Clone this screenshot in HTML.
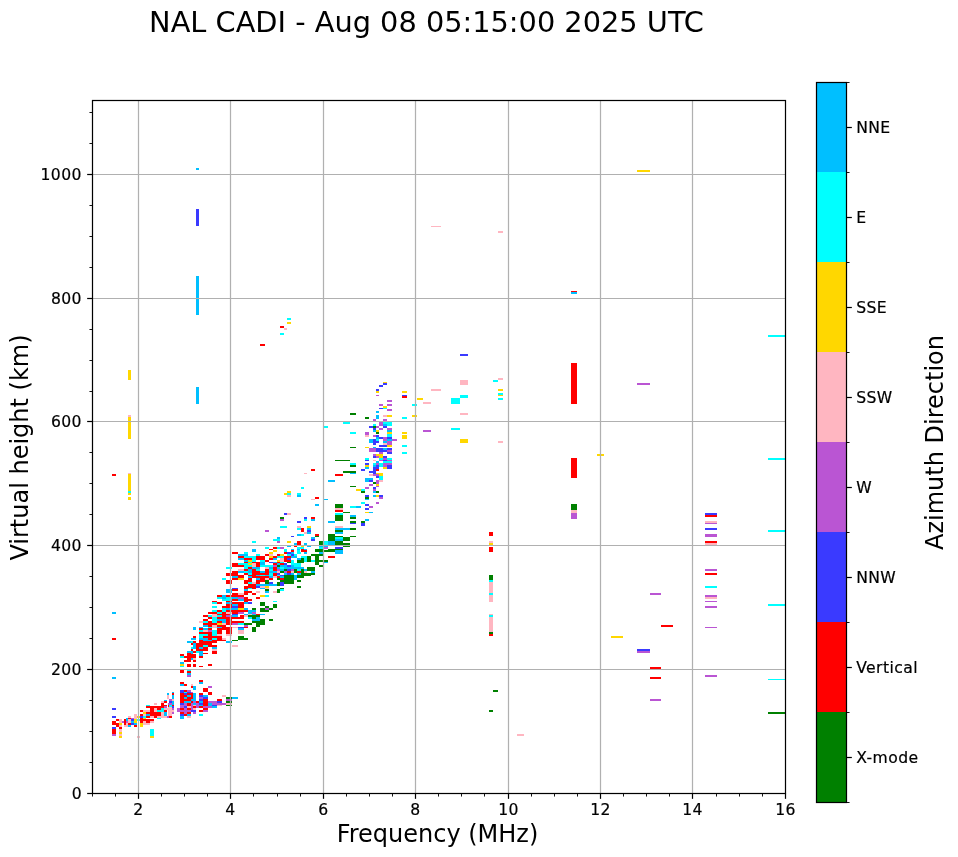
<!DOCTYPE html>
<html lang="en"><head><meta charset="utf-8"><title>NAL CADI ionogram</title>
<style>html,body{margin:0;padding:0;background:#fff}svg{display:block}text{font-family:"DejaVu Sans","Liberation Sans",sans-serif;fill:#000}</style></head><body>
<svg width="958" height="857" viewBox="0 0 958 857">
<rect width="958" height="857" fill="#fff"/>
<g shape-rendering="crispEdges">
<rect x="112" y="708" width="4" height="2" fill="#3a3aff"/>
<rect x="112" y="716" width="4" height="2" fill="#3a3aff"/>
<rect x="116" y="719" width="3" height="2" fill="#ff0000"/>
<rect x="112" y="721" width="4" height="4" fill="#ff0000"/>
<rect x="116" y="723" width="3" height="4" fill="#ff0000"/>
<rect x="112" y="727" width="4" height="2" fill="#3a3aff"/>
<rect x="112" y="729" width="4" height="5" fill="#ff0000"/>
<rect x="112" y="734" width="4" height="2" fill="#ba55d3"/>
<rect x="119" y="719" width="3" height="4" fill="#ffb6c1"/>
<rect x="119" y="723" width="3" height="2" fill="#ffd700"/>
<rect x="119" y="725" width="3" height="2" fill="#ffb6c1"/>
<rect x="119" y="727" width="3" height="2" fill="#ff0000"/>
<rect x="119" y="729" width="3" height="3" fill="#ffb6c1"/>
<rect x="119" y="732" width="3" height="2" fill="#ffd700"/>
<rect x="119" y="734" width="3" height="2" fill="#ffb6c1"/>
<rect x="119" y="736" width="3" height="2" fill="#ffd700"/>
<rect x="122" y="721" width="2" height="2" fill="#ba55d3"/>
<rect x="124" y="719" width="2" height="6" fill="#ff0000"/>
<rect x="124" y="725" width="4" height="2" fill="#ffb6c1"/>
<rect x="126" y="718" width="2" height="3" fill="#00bfff"/>
<rect x="126" y="721" width="2" height="2" fill="#ba55d3"/>
<rect x="126" y="723" width="2" height="2" fill="#ffb6c1"/>
<rect x="128" y="716" width="3" height="2" fill="#ffb6c1"/>
<rect x="128" y="718" width="3" height="1" fill="#ff0000"/>
<rect x="128" y="719" width="3" height="4" fill="#ffb6c1"/>
<rect x="128" y="723" width="3" height="2" fill="#ff0000"/>
<rect x="128" y="725" width="3" height="2" fill="#00bfff"/>
<rect x="131" y="718" width="3" height="1" fill="#ba55d3"/>
<rect x="131" y="719" width="3" height="2" fill="#3a3aff"/>
<rect x="131" y="721" width="3" height="2" fill="#00bfff"/>
<rect x="131" y="723" width="3" height="2" fill="#3a3aff"/>
<rect x="134" y="714" width="3" height="5" fill="#ffb6c1"/>
<rect x="134" y="719" width="3" height="4" fill="#ffd700"/>
<rect x="134" y="723" width="3" height="2" fill="#00bfff"/>
<rect x="134" y="725" width="3" height="2" fill="#ff0000"/>
<rect x="137" y="716" width="3" height="2" fill="#ffd700"/>
<rect x="137" y="719" width="3" height="2" fill="#00ffff"/>
<rect x="137" y="736" width="3" height="2" fill="#ffb6c1"/>
<rect x="140" y="710" width="3" height="2" fill="#ff0000"/>
<rect x="140" y="714" width="3" height="2" fill="#ff0000"/>
<rect x="140" y="716" width="3" height="2" fill="#3a3aff"/>
<rect x="140" y="718" width="3" height="5" fill="#ff0000"/>
<rect x="140" y="723" width="3" height="4" fill="#ffd700"/>
<rect x="143" y="710" width="7" height="2" fill="#ffb6c1"/>
<rect x="143" y="712" width="3" height="2" fill="#ffd700"/>
<rect x="143" y="714" width="3" height="2" fill="#ffb6c1"/>
<rect x="143" y="716" width="3" height="2" fill="#00ffff"/>
<rect x="143" y="718" width="3" height="1" fill="#ffd700"/>
<rect x="143" y="719" width="11" height="2" fill="#ff0000"/>
<rect x="143" y="721" width="3" height="2" fill="#ffb6c1"/>
<rect x="143" y="723" width="7" height="2" fill="#ffb6c1"/>
<rect x="146" y="721" width="4" height="2" fill="#ff0000"/>
<rect x="150" y="721" width="4" height="2" fill="#ffb6c1"/>
<rect x="146" y="705" width="4" height="1" fill="#00ffff"/>
<rect x="146" y="706" width="18" height="2" fill="#ff0000"/>
<rect x="150" y="708" width="4" height="8" fill="#ff0000"/>
<rect x="154" y="708" width="3" height="4" fill="#ffb6c1"/>
<rect x="157" y="708" width="4" height="2" fill="#ff0000"/>
<rect x="161" y="708" width="3" height="2" fill="#00ffff"/>
<rect x="157" y="710" width="7" height="2" fill="#00ffff"/>
<rect x="146" y="712" width="15" height="2" fill="#ff0000"/>
<rect x="146" y="714" width="4" height="2" fill="#00bfff"/>
<rect x="150" y="714" width="11" height="2" fill="#ff0000"/>
<rect x="146" y="716" width="4" height="2" fill="#ff0000"/>
<rect x="150" y="716" width="4" height="2" fill="#ffb6c1"/>
<rect x="154" y="716" width="3" height="2" fill="#ff0000"/>
<rect x="157" y="716" width="10" height="2" fill="#ffb6c1"/>
<rect x="157" y="718" width="4" height="1" fill="#00ffff"/>
<rect x="161" y="712" width="3" height="4" fill="#ffb6c1"/>
<rect x="164" y="712" width="3" height="4" fill="#00bfff"/>
<rect x="164" y="710" width="3" height="2" fill="#ff0000"/>
<rect x="164" y="708" width="4" height="2" fill="#ffb6c1"/>
<rect x="164" y="706" width="3" height="2" fill="#ba55d3"/>
<rect x="161" y="703" width="3" height="3" fill="#ff0000"/>
<rect x="164" y="701" width="3" height="2" fill="#ff0000"/>
<rect x="164" y="705" width="3" height="1" fill="#ff0000"/>
<rect x="154" y="703" width="3" height="2" fill="#ffb6c1"/>
<rect x="161" y="701" width="3" height="2" fill="#ffb6c1"/>
<rect x="164" y="700" width="3" height="1" fill="#00bfff"/>
<rect x="167" y="716" width="1" height="2" fill="#ba55d3"/>
<rect x="150" y="729" width="4" height="7" fill="#00ffff"/>
<rect x="150" y="736" width="4" height="2" fill="#ffd700"/>
<rect x="180" y="666" width="4" height="1" fill="#00ffff"/>
<rect x="187" y="666" width="4" height="1" fill="#ff0000"/>
<rect x="193" y="666" width="3" height="1" fill="#ff0000"/>
<rect x="199" y="666" width="4" height="1" fill="#ff0000"/>
<rect x="180" y="670" width="4" height="3" fill="#ff0000"/>
<rect x="187" y="670" width="4" height="1" fill="#00ffff"/>
<rect x="187" y="671" width="4" height="2" fill="#ff0000"/>
<rect x="187" y="673" width="4" height="2" fill="#00bfff"/>
<rect x="187" y="675" width="4" height="2" fill="#ba55d3"/>
<rect x="199" y="680" width="4" height="2" fill="#ff0000"/>
<rect x="199" y="682" width="4" height="2" fill="#00bfff"/>
<rect x="180" y="682" width="4" height="2" fill="#ff0000"/>
<rect x="180" y="684" width="4" height="2" fill="#00bfff"/>
<rect x="184" y="684" width="3" height="2" fill="#ff0000"/>
<rect x="191" y="684" width="2" height="2" fill="#ffb6c1"/>
<rect x="191" y="686" width="2" height="2" fill="#ff0000"/>
<rect x="193" y="686" width="3" height="4" fill="#00bfff"/>
<rect x="208" y="686" width="4" height="2" fill="#ba55d3"/>
<rect x="203" y="688" width="5" height="4" fill="#ff0000"/>
<rect x="208" y="692" width="4" height="3" fill="#ff0000"/>
<rect x="222" y="695" width="4" height="2" fill="#ffb6c1"/>
<rect x="180" y="690" width="4" height="3" fill="#3a3aff"/>
<rect x="184" y="690" width="3" height="2" fill="#ff0000"/>
<rect x="187" y="690" width="4" height="2" fill="#ba55d3"/>
<rect x="184" y="692" width="3" height="1" fill="#00ffff"/>
<rect x="187" y="692" width="4" height="1" fill="#3a3aff"/>
<rect x="191" y="692" width="2" height="1" fill="#ba55d3"/>
<rect x="180" y="693" width="4" height="10" fill="#ff0000"/>
<rect x="184" y="693" width="3" height="2" fill="#3a3aff"/>
<rect x="187" y="693" width="6" height="2" fill="#ff0000"/>
<rect x="184" y="695" width="3" height="2" fill="#ff0000"/>
<rect x="187" y="695" width="4" height="2" fill="#00bfff"/>
<rect x="191" y="695" width="2" height="4" fill="#ff0000"/>
<rect x="184" y="697" width="3" height="2" fill="#00bfff"/>
<rect x="187" y="697" width="4" height="2" fill="#ff0000"/>
<rect x="184" y="699" width="7" height="2" fill="#ff0000"/>
<rect x="191" y="699" width="5" height="2" fill="#00bfff"/>
<rect x="193" y="693" width="3" height="6" fill="#00bfff"/>
<rect x="184" y="701" width="7" height="2" fill="#00bfff"/>
<rect x="191" y="701" width="2" height="2" fill="#ff0000"/>
<rect x="193" y="701" width="3" height="2" fill="#ba55d3"/>
<rect x="196" y="701" width="3" height="2" fill="#ff0000"/>
<rect x="180" y="703" width="4" height="2" fill="#3a3aff"/>
<rect x="184" y="703" width="3" height="3" fill="#ba55d3"/>
<rect x="187" y="703" width="4" height="3" fill="#ff0000"/>
<rect x="191" y="703" width="2" height="7" fill="#ba55d3"/>
<rect x="193" y="703" width="3" height="2" fill="#00bfff"/>
<rect x="193" y="705" width="3" height="1" fill="#ffb6c1"/>
<rect x="196" y="703" width="3" height="5" fill="#ba55d3"/>
<rect x="180" y="705" width="4" height="3" fill="#ba55d3"/>
<rect x="184" y="706" width="3" height="2" fill="#3a3aff"/>
<rect x="187" y="706" width="4" height="2" fill="#ffb6c1"/>
<rect x="193" y="706" width="3" height="2" fill="#ff0000"/>
<rect x="177" y="708" width="3" height="4" fill="#ba55d3"/>
<rect x="180" y="708" width="4" height="2" fill="#ff0000"/>
<rect x="184" y="708" width="3" height="2" fill="#ba55d3"/>
<rect x="187" y="708" width="4" height="2" fill="#ff0000"/>
<rect x="193" y="708" width="3" height="2" fill="#ffb6c1"/>
<rect x="180" y="710" width="11" height="2" fill="#ba55d3"/>
<rect x="191" y="710" width="5" height="2" fill="#3a3aff"/>
<rect x="180" y="712" width="4" height="2" fill="#ff0000"/>
<rect x="184" y="712" width="3" height="2" fill="#ba55d3"/>
<rect x="187" y="712" width="4" height="2" fill="#ff0000"/>
<rect x="193" y="712" width="3" height="2" fill="#ba55d3"/>
<rect x="180" y="714" width="4" height="2" fill="#3a3aff"/>
<rect x="184" y="714" width="3" height="2" fill="#ff0000"/>
<rect x="187" y="714" width="4" height="2" fill="#00bfff"/>
<rect x="180" y="716" width="4" height="3" fill="#00bfff"/>
<rect x="187" y="716" width="4" height="2" fill="#ffb6c1"/>
<rect x="199" y="693" width="4" height="2" fill="#ff0000"/>
<rect x="199" y="695" width="4" height="2" fill="#3a3aff"/>
<rect x="199" y="697" width="4" height="2" fill="#ba55d3"/>
<rect x="199" y="699" width="4" height="2" fill="#3a3aff"/>
<rect x="199" y="701" width="4" height="2" fill="#00bfff"/>
<rect x="199" y="703" width="4" height="2" fill="#3a3aff"/>
<rect x="199" y="705" width="4" height="1" fill="#00bfff"/>
<rect x="199" y="706" width="4" height="2" fill="#ff0000"/>
<rect x="199" y="710" width="4" height="2" fill="#ff0000"/>
<rect x="199" y="714" width="4" height="2" fill="#00ffff"/>
<rect x="203" y="695" width="5" height="2" fill="#00bfff"/>
<rect x="203" y="697" width="5" height="2" fill="#3a3aff"/>
<rect x="203" y="699" width="5" height="7" fill="#ff0000"/>
<rect x="203" y="706" width="9" height="2" fill="#ba55d3"/>
<rect x="203" y="708" width="5" height="2" fill="#ff0000"/>
<rect x="203" y="710" width="5" height="2" fill="#ba55d3"/>
<rect x="208" y="701" width="9" height="2" fill="#ba55d3"/>
<rect x="208" y="703" width="4" height="3" fill="#00bfff"/>
<rect x="212" y="703" width="14" height="2" fill="#ba55d3"/>
<rect x="212" y="705" width="5" height="1" fill="#3a3aff"/>
<rect x="212" y="706" width="5" height="2" fill="#00bfff"/>
<rect x="217" y="699" width="5" height="2" fill="#ff0000"/>
<rect x="217" y="701" width="5" height="2" fill="#3a3aff"/>
<rect x="217" y="705" width="5" height="1" fill="#ffb6c1"/>
<rect x="226" y="697" width="2" height="2" fill="#008000"/>
<rect x="226" y="699" width="2" height="2" fill="#ba55d3"/>
<rect x="226" y="701" width="2" height="2" fill="#008000"/>
<rect x="226" y="703" width="2" height="2" fill="#ffb6c1"/>
<rect x="226" y="705" width="2" height="1" fill="#008000"/>
<rect x="172" y="692" width="2" height="1" fill="#00bfff"/>
<rect x="172" y="693" width="2" height="2" fill="#ff0000"/>
<rect x="172" y="695" width="2" height="4" fill="#00bfff"/>
<rect x="172" y="699" width="2" height="2" fill="#ffb6c1"/>
<rect x="172" y="701" width="2" height="4" fill="#00bfff"/>
<rect x="172" y="705" width="2" height="1" fill="#ff0000"/>
<rect x="172" y="706" width="2" height="2" fill="#3a3aff"/>
<rect x="172" y="708" width="2" height="2" fill="#ba55d3"/>
<rect x="172" y="710" width="2" height="2" fill="#ffb6c1"/>
<rect x="172" y="712" width="2" height="2" fill="#ba55d3"/>
<rect x="168" y="693" width="1" height="2" fill="#00bfff"/>
<rect x="168" y="695" width="1" height="4" fill="#ffb6c1"/>
<rect x="169" y="699" width="3" height="2" fill="#ba55d3"/>
<rect x="169" y="701" width="3" height="2" fill="#3a3aff"/>
<rect x="168" y="703" width="4" height="2" fill="#ba55d3"/>
<rect x="169" y="705" width="3" height="2" fill="#00ffff"/>
<rect x="168" y="705" width="1" height="3" fill="#ff0000"/>
<rect x="168" y="707" width="4" height="9" fill="#ffb6c1"/>
<rect x="168" y="716" width="1" height="2" fill="#ba55d3"/>
<rect x="169" y="716" width="3" height="2" fill="#ff0000"/>
<rect x="112" y="677" width="4" height="2" fill="#00bfff"/>
<rect x="167" y="693" width="1" height="2" fill="#00bfff"/>
<rect x="167" y="695" width="1" height="4" fill="#ffb6c1"/>
<rect x="228" y="697" width="4" height="2" fill="#008000"/>
<rect x="228" y="699" width="4" height="2" fill="#ba55d3"/>
<rect x="228" y="701" width="4" height="2" fill="#008000"/>
<rect x="228" y="703" width="4" height="2" fill="#ffb6c1"/>
<rect x="228" y="705" width="4" height="1" fill="#008000"/>
<rect x="232" y="697" width="6" height="2" fill="#00bfff"/>
<rect x="212" y="614" width="5" height="1" fill="#ffb6c1"/>
<rect x="217" y="614" width="13" height="1" fill="#ff0000"/>
<rect x="232" y="614" width="6" height="1" fill="#3a3aff"/>
<rect x="203" y="615" width="5" height="2" fill="#ff0000"/>
<rect x="208" y="615" width="4" height="2" fill="#00ffff"/>
<rect x="212" y="615" width="5" height="2" fill="#ffb6c1"/>
<rect x="217" y="615" width="5" height="2" fill="#00ffff"/>
<rect x="222" y="615" width="4" height="2" fill="#ff0000"/>
<rect x="226" y="615" width="6" height="2" fill="#ba55d3"/>
<rect x="232" y="615" width="6" height="2" fill="#00bfff"/>
<rect x="208" y="617" width="4" height="2" fill="#ff0000"/>
<rect x="212" y="617" width="5" height="2" fill="#00ffff"/>
<rect x="217" y="617" width="23" height="2" fill="#ff0000"/>
<rect x="203" y="619" width="5" height="2" fill="#ff0000"/>
<rect x="212" y="619" width="5" height="2" fill="#00ffff"/>
<rect x="217" y="619" width="9" height="2" fill="#00bfff"/>
<rect x="226" y="619" width="6" height="2" fill="#ff0000"/>
<rect x="222" y="621" width="4" height="2" fill="#00bfff"/>
<rect x="199" y="621" width="4" height="2" fill="#ffb6c1"/>
<rect x="203" y="621" width="5" height="2" fill="#00ffff"/>
<rect x="208" y="621" width="4" height="2" fill="#ff0000"/>
<rect x="212" y="621" width="5" height="2" fill="#00ffff"/>
<rect x="217" y="621" width="5" height="2" fill="#ff0000"/>
<rect x="226" y="621" width="14" height="2" fill="#ff0000"/>
<rect x="203" y="623" width="14" height="2" fill="#ff0000"/>
<rect x="217" y="623" width="5" height="2" fill="#ffd700"/>
<rect x="222" y="623" width="4" height="2" fill="#ffb6c1"/>
<rect x="226" y="623" width="6" height="2" fill="#ff0000"/>
<rect x="232" y="623" width="6" height="2" fill="#ba55d3"/>
<rect x="238" y="623" width="2" height="2" fill="#00ffff"/>
<rect x="203" y="625" width="5" height="2" fill="#00bfff"/>
<rect x="208" y="625" width="4" height="2" fill="#ff0000"/>
<rect x="212" y="625" width="5" height="2" fill="#ffb6c1"/>
<rect x="217" y="625" width="9" height="2" fill="#ff0000"/>
<rect x="193" y="627" width="3" height="1" fill="#00bfff"/>
<rect x="199" y="627" width="4" height="1" fill="#00bfff"/>
<rect x="208" y="627" width="4" height="1" fill="#00ffff"/>
<rect x="212" y="627" width="5" height="1" fill="#ffb6c1"/>
<rect x="217" y="627" width="5" height="1" fill="#00bfff"/>
<rect x="222" y="627" width="10" height="1" fill="#ff0000"/>
<rect x="232" y="627" width="6" height="1" fill="#ffb6c1"/>
<rect x="238" y="627" width="2" height="1" fill="#3a3aff"/>
<rect x="193" y="628" width="3" height="2" fill="#00bfff"/>
<rect x="199" y="628" width="4" height="2" fill="#ff0000"/>
<rect x="203" y="628" width="5" height="2" fill="#00bfff"/>
<rect x="208" y="628" width="4" height="2" fill="#ff0000"/>
<rect x="217" y="628" width="15" height="2" fill="#ff0000"/>
<rect x="238" y="628" width="2" height="2" fill="#00bfff"/>
<rect x="199" y="630" width="4" height="2" fill="#00ffff"/>
<rect x="203" y="630" width="5" height="2" fill="#ffb6c1"/>
<rect x="208" y="630" width="4" height="2" fill="#ba55d3"/>
<rect x="212" y="630" width="5" height="2" fill="#00ffff"/>
<rect x="217" y="630" width="5" height="2" fill="#ff0000"/>
<rect x="226" y="630" width="6" height="2" fill="#ff0000"/>
<rect x="238" y="630" width="2" height="2" fill="#ffb6c1"/>
<rect x="199" y="632" width="13" height="2" fill="#ff0000"/>
<rect x="212" y="632" width="5" height="2" fill="#00ffff"/>
<rect x="217" y="632" width="5" height="2" fill="#ff0000"/>
<rect x="226" y="632" width="6" height="2" fill="#ff0000"/>
<rect x="238" y="632" width="2" height="2" fill="#ffb6c1"/>
<rect x="199" y="634" width="9" height="2" fill="#00ffff"/>
<rect x="208" y="634" width="4" height="2" fill="#ff0000"/>
<rect x="212" y="634" width="5" height="2" fill="#00ffff"/>
<rect x="217" y="634" width="5" height="2" fill="#ffb6c1"/>
<rect x="226" y="634" width="6" height="2" fill="#ffb6c1"/>
<rect x="193" y="636" width="3" height="2" fill="#ff0000"/>
<rect x="199" y="636" width="4" height="2" fill="#00ffff"/>
<rect x="203" y="636" width="19" height="2" fill="#ff0000"/>
<rect x="238" y="636" width="2" height="2" fill="#008000"/>
<rect x="191" y="638" width="5" height="2" fill="#00bfff"/>
<rect x="199" y="638" width="9" height="2" fill="#00bfff"/>
<rect x="208" y="638" width="4" height="2" fill="#ff0000"/>
<rect x="212" y="638" width="5" height="2" fill="#00ffff"/>
<rect x="217" y="638" width="5" height="2" fill="#ff0000"/>
<rect x="222" y="638" width="4" height="2" fill="#ffb6c1"/>
<rect x="238" y="638" width="2" height="2" fill="#008000"/>
<rect x="199" y="640" width="4" height="1" fill="#ff0000"/>
<rect x="203" y="640" width="9" height="1" fill="#00bfff"/>
<rect x="212" y="640" width="14" height="1" fill="#ff0000"/>
<rect x="232" y="640" width="6" height="1" fill="#008000"/>
<rect x="187" y="641" width="4" height="2" fill="#00bfff"/>
<rect x="191" y="641" width="2" height="2" fill="#00ffff"/>
<rect x="193" y="641" width="3" height="2" fill="#ff0000"/>
<rect x="199" y="641" width="18" height="2" fill="#ff0000"/>
<rect x="226" y="641" width="6" height="2" fill="#00bfff"/>
<rect x="191" y="643" width="2" height="2" fill="#ff0000"/>
<rect x="193" y="643" width="3" height="2" fill="#00bfff"/>
<rect x="196" y="643" width="16" height="2" fill="#ff0000"/>
<rect x="193" y="645" width="3" height="2" fill="#00bfff"/>
<rect x="196" y="645" width="7" height="2" fill="#ff0000"/>
<rect x="203" y="645" width="5" height="2" fill="#00ffff"/>
<rect x="208" y="645" width="9" height="2" fill="#ff0000"/>
<rect x="232" y="645" width="6" height="2" fill="#ffb6c1"/>
<rect x="191" y="647" width="2" height="2" fill="#00ffff"/>
<rect x="193" y="647" width="3" height="2" fill="#00bfff"/>
<rect x="196" y="647" width="3" height="2" fill="#ff0000"/>
<rect x="199" y="647" width="4" height="2" fill="#00bfff"/>
<rect x="203" y="647" width="5" height="2" fill="#ff0000"/>
<rect x="212" y="647" width="5" height="2" fill="#00bfff"/>
<rect x="191" y="649" width="2" height="2" fill="#ff0000"/>
<rect x="196" y="649" width="12" height="2" fill="#ff0000"/>
<rect x="212" y="649" width="5" height="2" fill="#ffb6c1"/>
<rect x="187" y="651" width="6" height="2" fill="#00bfff"/>
<rect x="193" y="651" width="3" height="2" fill="#ff0000"/>
<rect x="196" y="651" width="3" height="2" fill="#00ffff"/>
<rect x="199" y="651" width="4" height="2" fill="#00bfff"/>
<rect x="212" y="651" width="5" height="2" fill="#ff0000"/>
<rect x="187" y="653" width="4" height="1" fill="#ff0000"/>
<rect x="191" y="653" width="2" height="1" fill="#00bfff"/>
<rect x="199" y="653" width="4" height="1" fill="#00bfff"/>
<rect x="203" y="653" width="5" height="1" fill="#ff0000"/>
<rect x="212" y="653" width="5" height="1" fill="#ff0000"/>
<rect x="180" y="654" width="4" height="2" fill="#ff0000"/>
<rect x="187" y="654" width="9" height="2" fill="#ff0000"/>
<rect x="199" y="654" width="4" height="2" fill="#00bfff"/>
<rect x="180" y="656" width="4" height="2" fill="#00ffff"/>
<rect x="184" y="656" width="12" height="2" fill="#ff0000"/>
<rect x="199" y="656" width="4" height="2" fill="#ff0000"/>
<rect x="187" y="658" width="4" height="2" fill="#ff0000"/>
<rect x="191" y="658" width="2" height="2" fill="#00bfff"/>
<rect x="193" y="658" width="3" height="2" fill="#ffb6c1"/>
<rect x="184" y="660" width="7" height="2" fill="#ff0000"/>
<rect x="193" y="660" width="3" height="2" fill="#ff0000"/>
<rect x="180" y="662" width="4" height="2" fill="#00bfff"/>
<rect x="180" y="664" width="4" height="2" fill="#ffd700"/>
<rect x="187" y="664" width="4" height="2" fill="#ff0000"/>
<rect x="193" y="664" width="3" height="2" fill="#ff0000"/>
<rect x="208" y="664" width="4" height="2" fill="#ff0000"/>
<rect x="180" y="666" width="4" height="1" fill="#00ffff"/>
<rect x="187" y="666" width="4" height="1" fill="#ff0000"/>
<rect x="193" y="666" width="3" height="1" fill="#ff0000"/>
<rect x="199" y="666" width="4" height="1" fill="#ff0000"/>
<rect x="244" y="588" width="4" height="1" fill="#ff0000"/>
<rect x="248" y="588" width="4" height="1" fill="#00ffff"/>
<rect x="252" y="588" width="4" height="1" fill="#ff0000"/>
<rect x="260" y="588" width="5" height="1" fill="#00bfff"/>
<rect x="265" y="588" width="4" height="1" fill="#ffb6c1"/>
<rect x="280" y="588" width="4" height="1" fill="#008000"/>
<rect x="244" y="589" width="4" height="2" fill="#00bfff"/>
<rect x="265" y="589" width="4" height="2" fill="#008000"/>
<rect x="277" y="589" width="3" height="2" fill="#008000"/>
<rect x="280" y="589" width="4" height="2" fill="#00ffff"/>
<rect x="244" y="591" width="8" height="2" fill="#ff0000"/>
<rect x="256" y="591" width="4" height="2" fill="#ffb6c1"/>
<rect x="265" y="591" width="4" height="2" fill="#00bfff"/>
<rect x="273" y="591" width="4" height="2" fill="#ffb6c1"/>
<rect x="277" y="591" width="3" height="2" fill="#008000"/>
<rect x="240" y="593" width="4" height="2" fill="#ffb6c1"/>
<rect x="244" y="593" width="4" height="2" fill="#ff0000"/>
<rect x="252" y="593" width="4" height="2" fill="#ff0000"/>
<rect x="240" y="595" width="4" height="2" fill="#ff0000"/>
<rect x="260" y="595" width="5" height="2" fill="#ffd700"/>
<rect x="265" y="595" width="4" height="2" fill="#00ffff"/>
<rect x="240" y="597" width="4" height="2" fill="#ba55d3"/>
<rect x="244" y="597" width="4" height="2" fill="#ff0000"/>
<rect x="256" y="597" width="4" height="2" fill="#ff0000"/>
<rect x="240" y="599" width="4" height="2" fill="#00bfff"/>
<rect x="244" y="599" width="8" height="2" fill="#ff0000"/>
<rect x="244" y="601" width="4" height="1" fill="#ff0000"/>
<rect x="273" y="601" width="4" height="1" fill="#00ffff"/>
<rect x="240" y="602" width="4" height="2" fill="#ff0000"/>
<rect x="244" y="602" width="4" height="2" fill="#00bfff"/>
<rect x="248" y="602" width="4" height="2" fill="#3a3aff"/>
<rect x="260" y="602" width="5" height="2" fill="#008000"/>
<rect x="240" y="604" width="4" height="2" fill="#ff0000"/>
<rect x="260" y="604" width="5" height="2" fill="#008000"/>
<rect x="273" y="604" width="4" height="2" fill="#008000"/>
<rect x="240" y="606" width="4" height="2" fill="#ff0000"/>
<rect x="265" y="606" width="4" height="2" fill="#008000"/>
<rect x="273" y="606" width="4" height="2" fill="#008000"/>
<rect x="240" y="608" width="4" height="2" fill="#ffd700"/>
<rect x="244" y="608" width="4" height="2" fill="#00bfff"/>
<rect x="252" y="608" width="4" height="2" fill="#008000"/>
<rect x="260" y="608" width="5" height="2" fill="#008000"/>
<rect x="265" y="608" width="4" height="2" fill="#ba55d3"/>
<rect x="269" y="608" width="4" height="2" fill="#008000"/>
<rect x="240" y="610" width="8" height="2" fill="#ff0000"/>
<rect x="248" y="610" width="8" height="2" fill="#00bfff"/>
<rect x="260" y="610" width="9" height="2" fill="#008000"/>
<rect x="240" y="612" width="4" height="2" fill="#ba55d3"/>
<rect x="248" y="612" width="4" height="2" fill="#00bfff"/>
<rect x="252" y="612" width="4" height="2" fill="#ba55d3"/>
<rect x="244" y="614" width="4" height="1" fill="#00bfff"/>
<rect x="248" y="614" width="4" height="1" fill="#ffb6c1"/>
<rect x="252" y="614" width="4" height="1" fill="#00bfff"/>
<rect x="256" y="614" width="4" height="1" fill="#ff0000"/>
<rect x="260" y="614" width="5" height="1" fill="#00bfff"/>
<rect x="240" y="615" width="4" height="2" fill="#ff0000"/>
<rect x="244" y="615" width="4" height="2" fill="#ffb6c1"/>
<rect x="248" y="615" width="12" height="2" fill="#008000"/>
<rect x="240" y="617" width="4" height="2" fill="#ff0000"/>
<rect x="248" y="617" width="4" height="2" fill="#00ffff"/>
<rect x="252" y="617" width="4" height="2" fill="#008000"/>
<rect x="256" y="617" width="4" height="2" fill="#00bfff"/>
<rect x="252" y="619" width="8" height="2" fill="#00bfff"/>
<rect x="260" y="619" width="5" height="2" fill="#008000"/>
<rect x="269" y="619" width="4" height="2" fill="#008000"/>
<rect x="240" y="621" width="4" height="2" fill="#ff0000"/>
<rect x="252" y="621" width="13" height="2" fill="#008000"/>
<rect x="240" y="623" width="4" height="2" fill="#00ffff"/>
<rect x="244" y="623" width="8" height="2" fill="#008000"/>
<rect x="256" y="623" width="9" height="2" fill="#008000"/>
<rect x="244" y="625" width="4" height="2" fill="#ba55d3"/>
<rect x="256" y="625" width="4" height="2" fill="#008000"/>
<rect x="240" y="627" width="4" height="1" fill="#3a3aff"/>
<rect x="244" y="627" width="4" height="1" fill="#ff0000"/>
<rect x="252" y="627" width="4" height="1" fill="#008000"/>
<rect x="240" y="628" width="4" height="2" fill="#00bfff"/>
<rect x="252" y="628" width="4" height="2" fill="#008000"/>
<rect x="240" y="630" width="4" height="2" fill="#ffb6c1"/>
<rect x="252" y="630" width="4" height="2" fill="#008000"/>
<rect x="240" y="632" width="4" height="2" fill="#ffb6c1"/>
<rect x="240" y="636" width="4" height="2" fill="#008000"/>
<rect x="240" y="638" width="8" height="2" fill="#008000"/>
<rect x="232" y="563" width="6" height="2" fill="#ff0000"/>
<rect x="238" y="563" width="2" height="2" fill="#00ffff"/>
<rect x="232" y="565" width="8" height="2" fill="#ff0000"/>
<rect x="226" y="567" width="6" height="2" fill="#00ffff"/>
<rect x="238" y="569" width="2" height="2" fill="#ffb6c1"/>
<rect x="232" y="571" width="6" height="2" fill="#ff0000"/>
<rect x="238" y="571" width="2" height="2" fill="#00bfff"/>
<rect x="226" y="573" width="12" height="3" fill="#ff0000"/>
<rect x="238" y="575" width="2" height="3" fill="#ff0000"/>
<rect x="232" y="576" width="6" height="2" fill="#00bfff"/>
<rect x="222" y="578" width="4" height="2" fill="#00ffff"/>
<rect x="232" y="578" width="6" height="2" fill="#ff0000"/>
<rect x="238" y="578" width="2" height="2" fill="#ffd700"/>
<rect x="226" y="580" width="6" height="4" fill="#ff0000"/>
<rect x="232" y="588" width="6" height="1" fill="#3a3aff"/>
<rect x="226" y="589" width="6" height="2" fill="#00bfff"/>
<rect x="232" y="589" width="6" height="2" fill="#ff0000"/>
<rect x="226" y="591" width="6" height="2" fill="#00bfff"/>
<rect x="232" y="593" width="6" height="2" fill="#ff0000"/>
<rect x="238" y="593" width="2" height="2" fill="#ffb6c1"/>
<rect x="217" y="595" width="5" height="2" fill="#ff0000"/>
<rect x="222" y="595" width="4" height="2" fill="#00bfff"/>
<rect x="226" y="595" width="14" height="2" fill="#ff0000"/>
<rect x="217" y="597" width="5" height="2" fill="#00ffff"/>
<rect x="222" y="597" width="4" height="2" fill="#00bfff"/>
<rect x="226" y="597" width="6" height="2" fill="#00ffff"/>
<rect x="232" y="597" width="6" height="2" fill="#00bfff"/>
<rect x="238" y="597" width="2" height="2" fill="#ba55d3"/>
<rect x="222" y="599" width="10" height="2" fill="#00ffff"/>
<rect x="232" y="599" width="6" height="2" fill="#ff0000"/>
<rect x="238" y="599" width="2" height="2" fill="#00bfff"/>
<rect x="212" y="601" width="5" height="1" fill="#ff0000"/>
<rect x="226" y="601" width="6" height="1" fill="#ff0000"/>
<rect x="212" y="602" width="5" height="2" fill="#00ffff"/>
<rect x="217" y="602" width="5" height="2" fill="#ff0000"/>
<rect x="226" y="602" width="6" height="2" fill="#00bfff"/>
<rect x="232" y="602" width="8" height="2" fill="#ff0000"/>
<rect x="226" y="604" width="6" height="2" fill="#ff0000"/>
<rect x="232" y="604" width="6" height="2" fill="#00bfff"/>
<rect x="238" y="604" width="2" height="2" fill="#ff0000"/>
<rect x="212" y="606" width="5" height="2" fill="#00ffff"/>
<rect x="222" y="606" width="10" height="2" fill="#ff0000"/>
<rect x="232" y="606" width="6" height="2" fill="#3a3aff"/>
<rect x="238" y="606" width="2" height="2" fill="#ff0000"/>
<rect x="222" y="608" width="4" height="2" fill="#00ffff"/>
<rect x="226" y="608" width="12" height="2" fill="#00bfff"/>
<rect x="238" y="608" width="2" height="2" fill="#ffd700"/>
<rect x="212" y="610" width="5" height="2" fill="#00ffff"/>
<rect x="217" y="610" width="5" height="2" fill="#ff0000"/>
<rect x="222" y="610" width="4" height="2" fill="#00ffff"/>
<rect x="226" y="610" width="14" height="2" fill="#ff0000"/>
<rect x="208" y="612" width="9" height="2" fill="#ff0000"/>
<rect x="217" y="612" width="5" height="2" fill="#00ffff"/>
<rect x="222" y="612" width="4" height="2" fill="#ff0000"/>
<rect x="226" y="612" width="6" height="2" fill="#ffb6c1"/>
<rect x="232" y="612" width="6" height="2" fill="#ff0000"/>
<rect x="238" y="612" width="2" height="2" fill="#ba55d3"/>
<rect x="297" y="534" width="3" height="2" fill="#00bfff"/>
<rect x="291" y="536" width="3" height="1" fill="#3a3aff"/>
<rect x="277" y="537" width="3" height="2" fill="#00bfff"/>
<rect x="273" y="539" width="7" height="2" fill="#00ffff"/>
<rect x="252" y="541" width="4" height="2" fill="#00ffff"/>
<rect x="277" y="541" width="3" height="2" fill="#ba55d3"/>
<rect x="287" y="541" width="4" height="2" fill="#ffd700"/>
<rect x="297" y="541" width="3" height="2" fill="#ff0000"/>
<rect x="294" y="543" width="3" height="2" fill="#00bfff"/>
<rect x="297" y="543" width="3" height="2" fill="#ff0000"/>
<rect x="287" y="546" width="4" height="1" fill="#00bfff"/>
<rect x="294" y="546" width="3" height="1" fill="#ff0000"/>
<rect x="265" y="547" width="4" height="2" fill="#00ffff"/>
<rect x="273" y="547" width="4" height="2" fill="#ff0000"/>
<rect x="277" y="547" width="3" height="2" fill="#00ffff"/>
<rect x="280" y="547" width="4" height="2" fill="#ba55d3"/>
<rect x="297" y="547" width="3" height="2" fill="#00ffff"/>
<rect x="269" y="549" width="4" height="1" fill="#ff0000"/>
<rect x="252" y="549" width="4" height="1" fill="#00bfff"/>
<rect x="284" y="549" width="3" height="1" fill="#00ffff"/>
<rect x="291" y="549" width="3" height="1" fill="#00bfff"/>
<rect x="297" y="549" width="3" height="1" fill="#00bfff"/>
<rect x="252" y="550" width="4" height="2" fill="#00bfff"/>
<rect x="273" y="550" width="4" height="2" fill="#ffd700"/>
<rect x="284" y="550" width="3" height="2" fill="#00ffff"/>
<rect x="291" y="550" width="3" height="2" fill="#ff0000"/>
<rect x="297" y="550" width="3" height="2" fill="#00ffff"/>
<rect x="244" y="552" width="4" height="2" fill="#00ffff"/>
<rect x="269" y="552" width="4" height="2" fill="#ffd700"/>
<rect x="284" y="552" width="3" height="2" fill="#ff0000"/>
<rect x="287" y="552" width="4" height="2" fill="#3a3aff"/>
<rect x="291" y="552" width="3" height="2" fill="#00bfff"/>
<rect x="297" y="552" width="3" height="2" fill="#00ffff"/>
<rect x="240" y="554" width="8" height="2" fill="#00bfff"/>
<rect x="256" y="554" width="4" height="2" fill="#00ffff"/>
<rect x="265" y="554" width="4" height="2" fill="#ff0000"/>
<rect x="269" y="554" width="4" height="2" fill="#ffb6c1"/>
<rect x="277" y="554" width="3" height="2" fill="#ff0000"/>
<rect x="280" y="554" width="4" height="2" fill="#ffd700"/>
<rect x="287" y="554" width="4" height="2" fill="#00ffff"/>
<rect x="291" y="554" width="3" height="2" fill="#3a3aff"/>
<rect x="294" y="554" width="3" height="2" fill="#00ffff"/>
<rect x="240" y="556" width="4" height="2" fill="#ff0000"/>
<rect x="244" y="556" width="12" height="2" fill="#00ffff"/>
<rect x="256" y="556" width="9" height="2" fill="#ff0000"/>
<rect x="269" y="556" width="4" height="2" fill="#ffd700"/>
<rect x="273" y="556" width="4" height="2" fill="#ff0000"/>
<rect x="277" y="556" width="7" height="2" fill="#00ffff"/>
<rect x="284" y="556" width="7" height="2" fill="#ff0000"/>
<rect x="291" y="556" width="6" height="2" fill="#00bfff"/>
<rect x="240" y="558" width="4" height="2" fill="#00bfff"/>
<rect x="244" y="558" width="8" height="2" fill="#ff0000"/>
<rect x="252" y="558" width="4" height="2" fill="#00ffff"/>
<rect x="256" y="558" width="9" height="2" fill="#ff0000"/>
<rect x="269" y="558" width="4" height="2" fill="#ff0000"/>
<rect x="273" y="558" width="4" height="2" fill="#00bfff"/>
<rect x="280" y="558" width="4" height="2" fill="#ffb6c1"/>
<rect x="284" y="558" width="3" height="2" fill="#ff0000"/>
<rect x="287" y="558" width="4" height="2" fill="#3a3aff"/>
<rect x="297" y="558" width="3" height="2" fill="#00bfff"/>
<rect x="244" y="560" width="4" height="2" fill="#00bfff"/>
<rect x="248" y="560" width="4" height="2" fill="#ffd700"/>
<rect x="252" y="560" width="4" height="2" fill="#00ffff"/>
<rect x="260" y="560" width="5" height="2" fill="#00ffff"/>
<rect x="265" y="560" width="4" height="2" fill="#ff0000"/>
<rect x="277" y="560" width="3" height="2" fill="#ffd700"/>
<rect x="280" y="560" width="4" height="2" fill="#ffb6c1"/>
<rect x="284" y="560" width="7" height="2" fill="#ff0000"/>
<rect x="291" y="560" width="3" height="2" fill="#00ffff"/>
<rect x="297" y="560" width="3" height="2" fill="#008000"/>
<rect x="244" y="562" width="4" height="1" fill="#ff0000"/>
<rect x="248" y="562" width="4" height="1" fill="#00ffff"/>
<rect x="252" y="562" width="8" height="1" fill="#ff0000"/>
<rect x="260" y="562" width="5" height="1" fill="#00bfff"/>
<rect x="269" y="562" width="4" height="1" fill="#3a3aff"/>
<rect x="273" y="562" width="4" height="1" fill="#00bfff"/>
<rect x="277" y="562" width="3" height="1" fill="#ff0000"/>
<rect x="280" y="562" width="4" height="1" fill="#00ffff"/>
<rect x="287" y="562" width="4" height="1" fill="#008000"/>
<rect x="291" y="562" width="3" height="1" fill="#00ffff"/>
<rect x="297" y="562" width="3" height="1" fill="#008000"/>
<rect x="240" y="563" width="8" height="2" fill="#00ffff"/>
<rect x="248" y="563" width="4" height="2" fill="#ffd700"/>
<rect x="252" y="563" width="4" height="2" fill="#ffb6c1"/>
<rect x="256" y="563" width="4" height="2" fill="#ff0000"/>
<rect x="260" y="563" width="5" height="2" fill="#00bfff"/>
<rect x="273" y="563" width="4" height="2" fill="#ff0000"/>
<rect x="277" y="563" width="3" height="2" fill="#00bfff"/>
<rect x="280" y="563" width="4" height="2" fill="#ff0000"/>
<rect x="284" y="563" width="3" height="2" fill="#3a3aff"/>
<rect x="291" y="563" width="9" height="2" fill="#00ffff"/>
<rect x="240" y="565" width="4" height="2" fill="#ff0000"/>
<rect x="244" y="565" width="8" height="2" fill="#00ffff"/>
<rect x="252" y="565" width="4" height="2" fill="#ffb6c1"/>
<rect x="256" y="565" width="4" height="2" fill="#ff0000"/>
<rect x="260" y="565" width="13" height="2" fill="#00ffff"/>
<rect x="273" y="565" width="4" height="2" fill="#ba55d3"/>
<rect x="277" y="565" width="3" height="2" fill="#008000"/>
<rect x="280" y="565" width="7" height="2" fill="#00bfff"/>
<rect x="287" y="565" width="4" height="2" fill="#3a3aff"/>
<rect x="291" y="565" width="3" height="2" fill="#00bfff"/>
<rect x="294" y="565" width="6" height="2" fill="#00ffff"/>
<rect x="244" y="567" width="4" height="2" fill="#00ffff"/>
<rect x="248" y="567" width="4" height="2" fill="#ff0000"/>
<rect x="252" y="567" width="8" height="2" fill="#00bfff"/>
<rect x="265" y="567" width="4" height="2" fill="#ffb6c1"/>
<rect x="269" y="567" width="4" height="2" fill="#00bfff"/>
<rect x="273" y="567" width="4" height="2" fill="#ff0000"/>
<rect x="277" y="567" width="3" height="2" fill="#00bfff"/>
<rect x="280" y="567" width="4" height="2" fill="#00ffff"/>
<rect x="284" y="567" width="16" height="2" fill="#00bfff"/>
<rect x="240" y="569" width="4" height="2" fill="#ffb6c1"/>
<rect x="244" y="569" width="4" height="2" fill="#ff0000"/>
<rect x="248" y="569" width="4" height="2" fill="#00bfff"/>
<rect x="252" y="569" width="4" height="2" fill="#ff0000"/>
<rect x="256" y="569" width="4" height="2" fill="#00ffff"/>
<rect x="265" y="569" width="4" height="2" fill="#ff0000"/>
<rect x="269" y="569" width="4" height="2" fill="#00ffff"/>
<rect x="273" y="569" width="4" height="2" fill="#ff0000"/>
<rect x="277" y="569" width="3" height="2" fill="#ba55d3"/>
<rect x="280" y="569" width="4" height="2" fill="#00bfff"/>
<rect x="284" y="569" width="3" height="2" fill="#008000"/>
<rect x="287" y="569" width="4" height="2" fill="#3a3aff"/>
<rect x="291" y="569" width="3" height="2" fill="#ba55d3"/>
<rect x="294" y="569" width="3" height="2" fill="#008000"/>
<rect x="297" y="569" width="3" height="2" fill="#00ffff"/>
<rect x="240" y="571" width="4" height="2" fill="#00bfff"/>
<rect x="244" y="571" width="4" height="2" fill="#00ffff"/>
<rect x="248" y="571" width="4" height="2" fill="#00bfff"/>
<rect x="252" y="571" width="8" height="2" fill="#ff0000"/>
<rect x="260" y="571" width="5" height="2" fill="#00bfff"/>
<rect x="265" y="571" width="4" height="2" fill="#ff0000"/>
<rect x="269" y="571" width="8" height="2" fill="#00bfff"/>
<rect x="277" y="571" width="3" height="2" fill="#ffb6c1"/>
<rect x="280" y="571" width="4" height="2" fill="#008000"/>
<rect x="284" y="571" width="3" height="2" fill="#ba55d3"/>
<rect x="287" y="571" width="4" height="2" fill="#ff0000"/>
<rect x="291" y="571" width="3" height="2" fill="#ffb6c1"/>
<rect x="294" y="571" width="3" height="2" fill="#008000"/>
<rect x="297" y="571" width="3" height="2" fill="#ff0000"/>
<rect x="244" y="573" width="4" height="2" fill="#ff0000"/>
<rect x="248" y="573" width="4" height="2" fill="#00ffff"/>
<rect x="252" y="573" width="17" height="2" fill="#ff0000"/>
<rect x="269" y="573" width="4" height="2" fill="#00ffff"/>
<rect x="273" y="573" width="4" height="2" fill="#ff0000"/>
<rect x="277" y="573" width="3" height="2" fill="#3a3aff"/>
<rect x="284" y="573" width="3" height="2" fill="#00bfff"/>
<rect x="287" y="573" width="4" height="2" fill="#3a3aff"/>
<rect x="291" y="573" width="3" height="2" fill="#00bfff"/>
<rect x="297" y="573" width="3" height="2" fill="#00bfff"/>
<rect x="240" y="575" width="4" height="1" fill="#ff0000"/>
<rect x="248" y="575" width="8" height="1" fill="#ff0000"/>
<rect x="256" y="575" width="4" height="1" fill="#00bfff"/>
<rect x="260" y="575" width="5" height="1" fill="#00ffff"/>
<rect x="265" y="575" width="4" height="1" fill="#00bfff"/>
<rect x="269" y="575" width="4" height="1" fill="#00ffff"/>
<rect x="273" y="575" width="4" height="1" fill="#ff0000"/>
<rect x="277" y="575" width="3" height="1" fill="#00ffff"/>
<rect x="280" y="575" width="4" height="1" fill="#3a3aff"/>
<rect x="284" y="575" width="10" height="1" fill="#008000"/>
<rect x="294" y="575" width="3" height="1" fill="#00bfff"/>
<rect x="297" y="575" width="3" height="1" fill="#008000"/>
<rect x="240" y="576" width="4" height="2" fill="#ff0000"/>
<rect x="248" y="576" width="4" height="2" fill="#00bfff"/>
<rect x="252" y="576" width="17" height="2" fill="#ff0000"/>
<rect x="269" y="576" width="4" height="2" fill="#00bfff"/>
<rect x="273" y="576" width="4" height="2" fill="#ffb6c1"/>
<rect x="277" y="576" width="3" height="2" fill="#ff0000"/>
<rect x="280" y="576" width="4" height="2" fill="#00bfff"/>
<rect x="284" y="576" width="10" height="2" fill="#008000"/>
<rect x="294" y="576" width="3" height="2" fill="#00bfff"/>
<rect x="297" y="576" width="3" height="2" fill="#008000"/>
<rect x="240" y="578" width="4" height="2" fill="#ffd700"/>
<rect x="248" y="578" width="4" height="2" fill="#ff0000"/>
<rect x="256" y="578" width="4" height="2" fill="#00bfff"/>
<rect x="260" y="578" width="5" height="2" fill="#ff0000"/>
<rect x="265" y="578" width="4" height="2" fill="#ffb6c1"/>
<rect x="269" y="578" width="4" height="2" fill="#ff0000"/>
<rect x="277" y="578" width="3" height="2" fill="#008000"/>
<rect x="280" y="578" width="4" height="2" fill="#ff0000"/>
<rect x="284" y="578" width="10" height="2" fill="#008000"/>
<rect x="294" y="578" width="3" height="2" fill="#00bfff"/>
<rect x="244" y="580" width="8" height="2" fill="#ff0000"/>
<rect x="256" y="580" width="9" height="2" fill="#ff0000"/>
<rect x="265" y="580" width="4" height="2" fill="#008000"/>
<rect x="280" y="580" width="14" height="2" fill="#008000"/>
<rect x="297" y="580" width="3" height="2" fill="#008000"/>
<rect x="244" y="582" width="4" height="2" fill="#ff0000"/>
<rect x="248" y="582" width="4" height="2" fill="#00ffff"/>
<rect x="252" y="582" width="4" height="2" fill="#ffb6c1"/>
<rect x="256" y="582" width="4" height="2" fill="#ff0000"/>
<rect x="265" y="582" width="4" height="2" fill="#008000"/>
<rect x="269" y="582" width="4" height="2" fill="#3a3aff"/>
<rect x="277" y="582" width="3" height="2" fill="#008000"/>
<rect x="280" y="582" width="4" height="2" fill="#3a3aff"/>
<rect x="284" y="582" width="10" height="2" fill="#008000"/>
<rect x="248" y="584" width="8" height="2" fill="#ff0000"/>
<rect x="256" y="584" width="21" height="2" fill="#00bfff"/>
<rect x="277" y="584" width="3" height="2" fill="#008000"/>
<rect x="280" y="584" width="4" height="2" fill="#3a3aff"/>
<rect x="244" y="586" width="12" height="2" fill="#ff0000"/>
<rect x="256" y="586" width="4" height="2" fill="#3a3aff"/>
<rect x="260" y="586" width="5" height="2" fill="#ffb6c1"/>
<rect x="265" y="586" width="4" height="2" fill="#ffd700"/>
<rect x="297" y="586" width="3" height="2" fill="#008000"/>
<rect x="300" y="534" width="1" height="2" fill="#00bfff"/>
<rect x="301" y="534" width="3" height="2" fill="#00ffff"/>
<rect x="315" y="534" width="4" height="2" fill="#ff0000"/>
<rect x="328" y="534" width="7" height="2" fill="#008000"/>
<rect x="315" y="536" width="4" height="1" fill="#008000"/>
<rect x="328" y="536" width="15" height="1" fill="#008000"/>
<rect x="350" y="536" width="6" height="1" fill="#008000"/>
<rect x="311" y="537" width="4" height="2" fill="#00bfff"/>
<rect x="328" y="537" width="7" height="2" fill="#008000"/>
<rect x="335" y="537" width="8" height="2" fill="#00ffff"/>
<rect x="343" y="537" width="7" height="2" fill="#008000"/>
<rect x="311" y="539" width="4" height="2" fill="#3a3aff"/>
<rect x="328" y="539" width="7" height="2" fill="#008000"/>
<rect x="335" y="539" width="8" height="2" fill="#00bfff"/>
<rect x="343" y="539" width="7" height="2" fill="#008000"/>
<rect x="300" y="541" width="1" height="2" fill="#ff0000"/>
<rect x="319" y="541" width="4" height="2" fill="#008000"/>
<rect x="324" y="541" width="4" height="2" fill="#00ffff"/>
<rect x="328" y="541" width="7" height="2" fill="#00bfff"/>
<rect x="335" y="541" width="8" height="2" fill="#008000"/>
<rect x="300" y="543" width="1" height="2" fill="#ff0000"/>
<rect x="304" y="543" width="3" height="2" fill="#00bfff"/>
<rect x="319" y="543" width="4" height="2" fill="#008000"/>
<rect x="324" y="543" width="4" height="2" fill="#00ffff"/>
<rect x="328" y="543" width="7" height="2" fill="#00bfff"/>
<rect x="335" y="543" width="15" height="2" fill="#008000"/>
<rect x="301" y="546" width="3" height="1" fill="#ffd700"/>
<rect x="307" y="546" width="4" height="1" fill="#00bfff"/>
<rect x="319" y="546" width="4" height="1" fill="#00bfff"/>
<rect x="324" y="546" width="4" height="1" fill="#00bfff"/>
<rect x="343" y="546" width="7" height="1" fill="#008000"/>
<rect x="300" y="547" width="4" height="2" fill="#00ffff"/>
<rect x="319" y="547" width="4" height="2" fill="#00ffff"/>
<rect x="324" y="547" width="4" height="2" fill="#ba55d3"/>
<rect x="335" y="547" width="8" height="2" fill="#3a3aff"/>
<rect x="301" y="549" width="3" height="1" fill="#ff0000"/>
<rect x="304" y="549" width="3" height="1" fill="#00bfff"/>
<rect x="315" y="549" width="8" height="1" fill="#008000"/>
<rect x="328" y="549" width="15" height="1" fill="#008000"/>
<rect x="301" y="550" width="6" height="2" fill="#ff0000"/>
<rect x="315" y="550" width="8" height="2" fill="#008000"/>
<rect x="324" y="550" width="11" height="2" fill="#008000"/>
<rect x="335" y="550" width="8" height="2" fill="#00bfff"/>
<rect x="300" y="552" width="1" height="2" fill="#00ffff"/>
<rect x="304" y="552" width="3" height="2" fill="#00bfff"/>
<rect x="319" y="552" width="4" height="2" fill="#00bfff"/>
<rect x="335" y="552" width="8" height="2" fill="#00bfff"/>
<rect x="311" y="554" width="12" height="2" fill="#008000"/>
<rect x="301" y="556" width="6" height="2" fill="#00ffff"/>
<rect x="307" y="556" width="4" height="2" fill="#008000"/>
<rect x="315" y="556" width="4" height="2" fill="#008000"/>
<rect x="328" y="556" width="7" height="2" fill="#ff0000"/>
<rect x="300" y="558" width="1" height="2" fill="#00bfff"/>
<rect x="301" y="558" width="3" height="2" fill="#008000"/>
<rect x="304" y="558" width="3" height="2" fill="#00ffff"/>
<rect x="307" y="558" width="4" height="2" fill="#008000"/>
<rect x="315" y="558" width="4" height="2" fill="#008000"/>
<rect x="300" y="560" width="4" height="2" fill="#008000"/>
<rect x="304" y="560" width="3" height="2" fill="#00ffff"/>
<rect x="307" y="560" width="4" height="2" fill="#008000"/>
<rect x="311" y="560" width="4" height="2" fill="#00ffff"/>
<rect x="315" y="560" width="8" height="2" fill="#008000"/>
<rect x="324" y="560" width="4" height="2" fill="#008000"/>
<rect x="300" y="562" width="4" height="1" fill="#008000"/>
<rect x="315" y="562" width="4" height="1" fill="#008000"/>
<rect x="324" y="562" width="4" height="1" fill="#00bfff"/>
<rect x="300" y="563" width="1" height="2" fill="#00ffff"/>
<rect x="315" y="563" width="4" height="2" fill="#008000"/>
<rect x="300" y="565" width="1" height="2" fill="#00ffff"/>
<rect x="319" y="565" width="4" height="2" fill="#008000"/>
<rect x="300" y="567" width="4" height="2" fill="#00bfff"/>
<rect x="307" y="567" width="8" height="2" fill="#008000"/>
<rect x="300" y="569" width="1" height="2" fill="#00ffff"/>
<rect x="301" y="569" width="3" height="2" fill="#008000"/>
<rect x="304" y="569" width="3" height="2" fill="#00bfff"/>
<rect x="307" y="569" width="8" height="2" fill="#008000"/>
<rect x="300" y="571" width="1" height="2" fill="#ff0000"/>
<rect x="301" y="571" width="3" height="2" fill="#008000"/>
<rect x="304" y="571" width="3" height="2" fill="#ffb6c1"/>
<rect x="311" y="571" width="4" height="2" fill="#00bfff"/>
<rect x="300" y="573" width="1" height="2" fill="#00bfff"/>
<rect x="301" y="573" width="14" height="2" fill="#008000"/>
<rect x="300" y="575" width="11" height="1" fill="#008000"/>
<rect x="300" y="576" width="4" height="2" fill="#008000"/>
<rect x="300" y="580" width="1" height="2" fill="#008000"/>
<rect x="300" y="586" width="1" height="2" fill="#008000"/>
<rect x="287" y="491" width="4" height="2" fill="#ffd700"/>
<rect x="284" y="493" width="3" height="2" fill="#ffd700"/>
<rect x="287" y="493" width="4" height="2" fill="#00ffff"/>
<rect x="287" y="495" width="4" height="2" fill="#ffb6c1"/>
<rect x="297" y="493" width="3" height="2" fill="#00ffff"/>
<rect x="297" y="495" width="3" height="2" fill="#00bfff"/>
<rect x="284" y="513" width="3" height="2" fill="#3a3aff"/>
<rect x="287" y="513" width="4" height="2" fill="#ffb6c1"/>
<rect x="280" y="517" width="4" height="2" fill="#008000"/>
<rect x="280" y="519" width="4" height="2" fill="#ba55d3"/>
<rect x="297" y="521" width="3" height="2" fill="#3a3aff"/>
<rect x="280" y="526" width="7" height="2" fill="#00ffff"/>
<rect x="297" y="526" width="3" height="2" fill="#ffb6c1"/>
<rect x="297" y="528" width="3" height="2" fill="#00ffff"/>
<rect x="265" y="530" width="4" height="2" fill="#ba55d3"/>
<rect x="328" y="480" width="7" height="2" fill="#00bfff"/>
<rect x="301" y="487" width="3" height="2" fill="#00ffff"/>
<rect x="350" y="486" width="6" height="1" fill="#008000"/>
<rect x="356" y="489" width="4" height="2" fill="#ffd700"/>
<rect x="300" y="493" width="1" height="2" fill="#00ffff"/>
<rect x="300" y="495" width="1" height="2" fill="#00bfff"/>
<rect x="315" y="497" width="4" height="2" fill="#ff0000"/>
<rect x="311" y="499" width="4" height="1" fill="#ffb6c1"/>
<rect x="324" y="499" width="4" height="1" fill="#00bfff"/>
<rect x="315" y="504" width="4" height="2" fill="#00bfff"/>
<rect x="335" y="504" width="8" height="4" fill="#008000"/>
<rect x="335" y="508" width="8" height="2" fill="#ffb6c1"/>
<rect x="335" y="510" width="8" height="2" fill="#ff0000"/>
<rect x="343" y="512" width="7" height="1" fill="#008000"/>
<rect x="335" y="513" width="8" height="2" fill="#00ffff"/>
<rect x="335" y="515" width="8" height="6" fill="#008000"/>
<rect x="350" y="506" width="6" height="2" fill="#00ffff"/>
<rect x="356" y="506" width="4" height="2" fill="#00bfff"/>
<rect x="350" y="515" width="6" height="2" fill="#00bfff"/>
<rect x="350" y="517" width="6" height="2" fill="#008000"/>
<rect x="350" y="521" width="6" height="2" fill="#008000"/>
<rect x="350" y="523" width="6" height="1" fill="#3a3aff"/>
<rect x="328" y="521" width="7" height="2" fill="#00bfff"/>
<rect x="304" y="517" width="3" height="2" fill="#3a3aff"/>
<rect x="304" y="519" width="3" height="2" fill="#00ffff"/>
<rect x="311" y="517" width="4" height="2" fill="#ff0000"/>
<rect x="311" y="519" width="4" height="2" fill="#00bfff"/>
<rect x="300" y="521" width="1" height="2" fill="#3a3aff"/>
<rect x="300" y="526" width="1" height="2" fill="#ffb6c1"/>
<rect x="300" y="528" width="1" height="2" fill="#00ffff"/>
<rect x="307" y="526" width="4" height="2" fill="#ffd700"/>
<rect x="307" y="528" width="4" height="2" fill="#00bfff"/>
<rect x="307" y="530" width="4" height="2" fill="#3a3aff"/>
<rect x="307" y="532" width="4" height="2" fill="#00bfff"/>
<rect x="301" y="528" width="3" height="4" fill="#ff0000"/>
<rect x="304" y="532" width="3" height="2" fill="#ffb6c1"/>
<rect x="335" y="526" width="8" height="2" fill="#ffb6c1"/>
<rect x="335" y="528" width="15" height="2" fill="#00bfff"/>
<rect x="350" y="528" width="6" height="2" fill="#008000"/>
<rect x="335" y="530" width="8" height="2" fill="#008000"/>
<rect x="335" y="532" width="8" height="2" fill="#00bfff"/>
<rect x="365" y="480" width="4" height="2" fill="#00bfff"/>
<rect x="369" y="480" width="4" height="2" fill="#3a3aff"/>
<rect x="376" y="480" width="3" height="4" fill="#ba55d3"/>
<rect x="379" y="480" width="4" height="2" fill="#ffb6c1"/>
<rect x="373" y="482" width="3" height="2" fill="#008000"/>
<rect x="369" y="484" width="4" height="2" fill="#ba55d3"/>
<rect x="376" y="484" width="3" height="2" fill="#ffd700"/>
<rect x="376" y="486" width="3" height="1" fill="#ba55d3"/>
<rect x="365" y="487" width="4" height="2" fill="#ba55d3"/>
<rect x="373" y="487" width="3" height="2" fill="#3a3aff"/>
<rect x="360" y="489" width="1" height="2" fill="#ffd700"/>
<rect x="361" y="489" width="4" height="2" fill="#00ffff"/>
<rect x="373" y="489" width="3" height="2" fill="#ba55d3"/>
<rect x="361" y="491" width="4" height="2" fill="#008000"/>
<rect x="373" y="491" width="3" height="2" fill="#00bfff"/>
<rect x="376" y="491" width="3" height="2" fill="#008000"/>
<rect x="365" y="495" width="4" height="2" fill="#3a3aff"/>
<rect x="373" y="495" width="3" height="2" fill="#00bfff"/>
<rect x="376" y="495" width="3" height="2" fill="#ffd700"/>
<rect x="379" y="495" width="4" height="2" fill="#3a3aff"/>
<rect x="365" y="497" width="4" height="2" fill="#008000"/>
<rect x="379" y="497" width="4" height="2" fill="#ba55d3"/>
<rect x="365" y="499" width="4" height="1" fill="#00bfff"/>
<rect x="361" y="502" width="4" height="2" fill="#00ffff"/>
<rect x="376" y="502" width="3" height="2" fill="#ba55d3"/>
<rect x="365" y="504" width="4" height="2" fill="#3a3aff"/>
<rect x="360" y="506" width="1" height="2" fill="#00bfff"/>
<rect x="369" y="506" width="4" height="2" fill="#ba55d3"/>
<rect x="365" y="508" width="4" height="2" fill="#3a3aff"/>
<rect x="365" y="512" width="4" height="1" fill="#ffd700"/>
<rect x="369" y="512" width="4" height="1" fill="#00bfff"/>
<rect x="365" y="519" width="4" height="2" fill="#00bfff"/>
<rect x="361" y="521" width="4" height="2" fill="#008000"/>
<rect x="361" y="523" width="4" height="3" fill="#3a3aff"/>
<rect x="369" y="426" width="4" height="2" fill="#3a3aff"/>
<rect x="373" y="426" width="3" height="2" fill="#008000"/>
<rect x="376" y="426" width="3" height="2" fill="#ba55d3"/>
<rect x="383" y="426" width="4" height="2" fill="#3a3aff"/>
<rect x="373" y="428" width="3" height="2" fill="#3a3aff"/>
<rect x="379" y="428" width="4" height="2" fill="#ba55d3"/>
<rect x="387" y="428" width="5" height="2" fill="#ba55d3"/>
<rect x="373" y="430" width="3" height="2" fill="#00bfff"/>
<rect x="376" y="430" width="3" height="2" fill="#ffd700"/>
<rect x="387" y="430" width="5" height="2" fill="#00bfff"/>
<rect x="365" y="432" width="4" height="2" fill="#ba55d3"/>
<rect x="376" y="432" width="3" height="2" fill="#008000"/>
<rect x="387" y="432" width="5" height="2" fill="#ffd700"/>
<rect x="402" y="432" width="5" height="2" fill="#ffd700"/>
<rect x="365" y="434" width="4" height="1" fill="#ba55d3"/>
<rect x="387" y="434" width="5" height="1" fill="#00ffff"/>
<rect x="365" y="435" width="4" height="2" fill="#ffb6c1"/>
<rect x="373" y="435" width="3" height="2" fill="#ba55d3"/>
<rect x="376" y="435" width="3" height="2" fill="#3a3aff"/>
<rect x="387" y="435" width="5" height="2" fill="#00ffff"/>
<rect x="402" y="435" width="5" height="4" fill="#ffd700"/>
<rect x="376" y="437" width="3" height="2" fill="#00bfff"/>
<rect x="379" y="437" width="4" height="2" fill="#3a3aff"/>
<rect x="383" y="437" width="4" height="2" fill="#ba55d3"/>
<rect x="387" y="437" width="5" height="2" fill="#3a3aff"/>
<rect x="369" y="439" width="4" height="2" fill="#00bfff"/>
<rect x="373" y="439" width="3" height="2" fill="#3a3aff"/>
<rect x="376" y="439" width="3" height="2" fill="#00ffff"/>
<rect x="383" y="439" width="4" height="2" fill="#ba55d3"/>
<rect x="387" y="439" width="5" height="2" fill="#00bfff"/>
<rect x="392" y="439" width="5" height="2" fill="#ba55d3"/>
<rect x="369" y="441" width="4" height="2" fill="#00bfff"/>
<rect x="373" y="441" width="6" height="2" fill="#3a3aff"/>
<rect x="383" y="441" width="4" height="2" fill="#00bfff"/>
<rect x="387" y="441" width="5" height="2" fill="#ba55d3"/>
<rect x="373" y="443" width="3" height="2" fill="#3a3aff"/>
<rect x="383" y="443" width="4" height="2" fill="#ffb6c1"/>
<rect x="387" y="443" width="5" height="2" fill="#ba55d3"/>
<rect x="379" y="445" width="8" height="2" fill="#3a3aff"/>
<rect x="387" y="445" width="5" height="2" fill="#ffd700"/>
<rect x="402" y="445" width="5" height="2" fill="#00ffff"/>
<rect x="365" y="447" width="4" height="1" fill="#ffd700"/>
<rect x="373" y="447" width="3" height="1" fill="#00bfff"/>
<rect x="369" y="448" width="7" height="2" fill="#ba55d3"/>
<rect x="376" y="448" width="7" height="2" fill="#3a3aff"/>
<rect x="383" y="448" width="4" height="2" fill="#00bfff"/>
<rect x="387" y="448" width="5" height="2" fill="#3a3aff"/>
<rect x="369" y="450" width="7" height="2" fill="#ba55d3"/>
<rect x="376" y="450" width="11" height="2" fill="#3a3aff"/>
<rect x="387" y="450" width="5" height="2" fill="#ba55d3"/>
<rect x="379" y="452" width="4" height="2" fill="#ba55d3"/>
<rect x="387" y="452" width="5" height="2" fill="#3a3aff"/>
<rect x="402" y="452" width="5" height="2" fill="#00ffff"/>
<rect x="373" y="454" width="3" height="2" fill="#ba55d3"/>
<rect x="376" y="454" width="7" height="2" fill="#ffd700"/>
<rect x="373" y="456" width="3" height="2" fill="#3a3aff"/>
<rect x="376" y="456" width="3" height="2" fill="#ba55d3"/>
<rect x="379" y="456" width="4" height="2" fill="#ffd700"/>
<rect x="383" y="456" width="4" height="2" fill="#3a3aff"/>
<rect x="365" y="458" width="4" height="2" fill="#00ffff"/>
<rect x="379" y="458" width="4" height="2" fill="#00ffff"/>
<rect x="383" y="458" width="4" height="2" fill="#ba55d3"/>
<rect x="387" y="458" width="5" height="2" fill="#00ffff"/>
<rect x="365" y="460" width="4" height="1" fill="#3a3aff"/>
<rect x="373" y="460" width="3" height="1" fill="#ffb6c1"/>
<rect x="379" y="460" width="4" height="1" fill="#ba55d3"/>
<rect x="383" y="460" width="4" height="1" fill="#3a3aff"/>
<rect x="387" y="460" width="5" height="1" fill="#ba55d3"/>
<rect x="376" y="461" width="3" height="2" fill="#00bfff"/>
<rect x="383" y="461" width="9" height="2" fill="#00ffff"/>
<rect x="365" y="463" width="4" height="2" fill="#3a3aff"/>
<rect x="373" y="463" width="3" height="2" fill="#00ffff"/>
<rect x="376" y="463" width="3" height="2" fill="#ba55d3"/>
<rect x="379" y="463" width="4" height="2" fill="#00ffff"/>
<rect x="383" y="463" width="9" height="2" fill="#ba55d3"/>
<rect x="365" y="465" width="4" height="2" fill="#ffd700"/>
<rect x="373" y="465" width="3" height="2" fill="#00bfff"/>
<rect x="376" y="465" width="3" height="2" fill="#3a3aff"/>
<rect x="379" y="465" width="4" height="2" fill="#00ffff"/>
<rect x="383" y="465" width="4" height="2" fill="#ba55d3"/>
<rect x="387" y="465" width="5" height="2" fill="#3a3aff"/>
<rect x="365" y="467" width="4" height="2" fill="#00bfff"/>
<rect x="373" y="467" width="6" height="2" fill="#3a3aff"/>
<rect x="383" y="467" width="4" height="2" fill="#ffd700"/>
<rect x="387" y="467" width="5" height="2" fill="#3a3aff"/>
<rect x="361" y="469" width="4" height="2" fill="#3a3aff"/>
<rect x="373" y="469" width="3" height="2" fill="#3a3aff"/>
<rect x="376" y="469" width="3" height="2" fill="#ff0000"/>
<rect x="369" y="471" width="7" height="2" fill="#3a3aff"/>
<rect x="373" y="473" width="3" height="1" fill="#3a3aff"/>
<rect x="376" y="473" width="7" height="1" fill="#ffd700"/>
<rect x="369" y="474" width="4" height="2" fill="#ffb6c1"/>
<rect x="373" y="474" width="6" height="2" fill="#ba55d3"/>
<rect x="379" y="474" width="4" height="2" fill="#ffd700"/>
<rect x="376" y="476" width="3" height="2" fill="#3a3aff"/>
<rect x="379" y="476" width="4" height="2" fill="#00ffff"/>
<rect x="365" y="478" width="8" height="2" fill="#00bfff"/>
<rect x="379" y="478" width="4" height="2" fill="#00ffff"/>
<rect x="383" y="382" width="4" height="1" fill="#ffd700"/>
<rect x="383" y="383" width="4" height="2" fill="#3a3aff"/>
<rect x="379" y="385" width="4" height="2" fill="#3a3aff"/>
<rect x="376" y="389" width="3" height="2" fill="#3a3aff"/>
<rect x="376" y="391" width="3" height="2" fill="#ffd700"/>
<rect x="376" y="395" width="3" height="1" fill="#ba55d3"/>
<rect x="402" y="391" width="5" height="2" fill="#ffd700"/>
<rect x="402" y="395" width="5" height="1" fill="#3a3aff"/>
<rect x="402" y="396" width="5" height="2" fill="#ff0000"/>
<rect x="417" y="398" width="3" height="2" fill="#ffd700"/>
<rect x="387" y="400" width="5" height="2" fill="#ba55d3"/>
<rect x="379" y="404" width="4" height="2" fill="#ba55d3"/>
<rect x="387" y="404" width="5" height="2" fill="#ba55d3"/>
<rect x="383" y="406" width="4" height="2" fill="#ffd700"/>
<rect x="379" y="408" width="4" height="1" fill="#3a3aff"/>
<rect x="383" y="408" width="4" height="1" fill="#00ffff"/>
<rect x="387" y="409" width="5" height="2" fill="#ba55d3"/>
<rect x="412" y="404" width="5" height="2" fill="#00ffff"/>
<rect x="376" y="411" width="3" height="2" fill="#00bfff"/>
<rect x="376" y="415" width="3" height="4" fill="#00bfff"/>
<rect x="383" y="415" width="4" height="2" fill="#ffb6c1"/>
<rect x="387" y="415" width="5" height="2" fill="#ffd700"/>
<rect x="412" y="415" width="5" height="2" fill="#ffd700"/>
<rect x="365" y="417" width="4" height="2" fill="#008000"/>
<rect x="402" y="417" width="5" height="2" fill="#00ffff"/>
<rect x="373" y="419" width="3" height="2" fill="#ba55d3"/>
<rect x="383" y="419" width="4" height="2" fill="#ba55d3"/>
<rect x="373" y="424" width="3" height="2" fill="#00ffff"/>
<rect x="379" y="422" width="4" height="4" fill="#ba55d3"/>
<rect x="383" y="422" width="9" height="2" fill="#00ffff"/>
<rect x="383" y="424" width="4" height="2" fill="#00bfff"/>
<rect x="387" y="424" width="5" height="2" fill="#00ffff"/>
<rect x="324" y="426" width="4" height="2" fill="#00ffff"/>
<rect x="350" y="432" width="6" height="2" fill="#00ffff"/>
<rect x="350" y="447" width="6" height="1" fill="#008000"/>
<rect x="335" y="460" width="15" height="1" fill="#008000"/>
<rect x="350" y="463" width="6" height="2" fill="#00ffff"/>
<rect x="350" y="465" width="6" height="2" fill="#008000"/>
<rect x="311" y="469" width="4" height="2" fill="#ff0000"/>
<rect x="304" y="473" width="3" height="1" fill="#ffb6c1"/>
<rect x="343" y="471" width="13" height="2" fill="#008000"/>
<rect x="350" y="473" width="6" height="1" fill="#00bfff"/>
<rect x="335" y="474" width="8" height="2" fill="#ff0000"/>
<rect x="350" y="413" width="6" height="2" fill="#008000"/>
<rect x="343" y="422" width="7" height="2" fill="#00ffff"/>
<rect x="431" y="389" width="10" height="2" fill="#ffb6c1"/>
<rect x="423" y="402" width="8" height="2" fill="#ffb6c1"/>
<rect x="417" y="398" width="6" height="2" fill="#ffd700"/>
<rect x="460" y="354" width="8" height="2" fill="#3a3aff"/>
<rect x="460" y="380" width="8" height="5" fill="#ffb6c1"/>
<rect x="498" y="378" width="5" height="2" fill="#ffb6c1"/>
<rect x="493" y="380" width="5" height="2" fill="#00ffff"/>
<rect x="498" y="389" width="5" height="2" fill="#ffd700"/>
<rect x="498" y="393" width="5" height="2" fill="#00ffff"/>
<rect x="498" y="395" width="5" height="1" fill="#ffd700"/>
<rect x="498" y="398" width="5" height="2" fill="#00ffff"/>
<rect x="460" y="395" width="8" height="3" fill="#00ffff"/>
<rect x="451" y="398" width="9" height="6" fill="#00ffff"/>
<rect x="460" y="413" width="8" height="2" fill="#ffb6c1"/>
<rect x="423" y="430" width="8" height="2" fill="#ba55d3"/>
<rect x="451" y="428" width="9" height="2" fill="#00ffff"/>
<rect x="460" y="439" width="8" height="4" fill="#ffd700"/>
<rect x="498" y="441" width="5" height="2" fill="#ffb6c1"/>
<rect x="196" y="168" width="3" height="2" fill="#00bfff"/>
<rect x="196" y="209" width="3" height="17" fill="#3a3aff"/>
<rect x="196" y="276" width="3" height="39" fill="#00bfff"/>
<rect x="128" y="370" width="3" height="10" fill="#ffd700"/>
<rect x="196" y="387" width="3" height="17" fill="#00bfff"/>
<rect x="128" y="415" width="3" height="2" fill="#ffb6c1"/>
<rect x="128" y="417" width="3" height="22" fill="#ffd700"/>
<rect x="128" y="473" width="3" height="1" fill="#ffb6c1"/>
<rect x="128" y="474" width="3" height="17" fill="#ffd700"/>
<rect x="128" y="491" width="3" height="2" fill="#00ffff"/>
<rect x="128" y="493" width="3" height="2" fill="#ffd700"/>
<rect x="128" y="497" width="3" height="3" fill="#ffd700"/>
<rect x="112" y="474" width="4" height="2" fill="#ff0000"/>
<rect x="112" y="612" width="4" height="2" fill="#00bfff"/>
<rect x="112" y="638" width="4" height="2" fill="#ff0000"/>
<rect x="232" y="552" width="6" height="2" fill="#ff0000"/>
<rect x="238" y="554" width="2" height="2" fill="#00bfff"/>
<rect x="238" y="556" width="2" height="2" fill="#ff0000"/>
<rect x="238" y="558" width="2" height="2" fill="#00bfff"/>
<rect x="431" y="226" width="10" height="1" fill="#ffb6c1"/>
<rect x="498" y="231" width="5" height="2" fill="#ffb6c1"/>
<rect x="637" y="170" width="13" height="2" fill="#ffd700"/>
<rect x="571" y="291" width="6" height="1" fill="#ff0000"/>
<rect x="571" y="292" width="6" height="2" fill="#00bfff"/>
<rect x="768" y="335" width="17" height="2" fill="#00ffff"/>
<rect x="571" y="363" width="6" height="41" fill="#ff0000"/>
<rect x="637" y="383" width="13" height="2" fill="#ba55d3"/>
<rect x="597" y="454" width="7" height="2" fill="#ffd700"/>
<rect x="571" y="458" width="6" height="20" fill="#ff0000"/>
<rect x="571" y="504" width="6" height="6" fill="#008000"/>
<rect x="571" y="510" width="6" height="3" fill="#ffb6c1"/>
<rect x="571" y="513" width="6" height="6" fill="#ba55d3"/>
<rect x="489" y="532" width="4" height="4" fill="#ff0000"/>
<rect x="489" y="541" width="4" height="2" fill="#ffb6c1"/>
<rect x="489" y="543" width="4" height="2" fill="#ffd700"/>
<rect x="489" y="547" width="4" height="5" fill="#ff0000"/>
<rect x="489" y="575" width="4" height="5" fill="#008000"/>
<rect x="489" y="580" width="4" height="2" fill="#00ffff"/>
<rect x="489" y="582" width="4" height="11" fill="#ffb6c1"/>
<rect x="489" y="593" width="4" height="2" fill="#00ffff"/>
<rect x="489" y="595" width="4" height="7" fill="#ffb6c1"/>
<rect x="489" y="614" width="4" height="1" fill="#ffb6c1"/>
<rect x="489" y="615" width="4" height="2" fill="#00ffff"/>
<rect x="489" y="617" width="4" height="15" fill="#ffb6c1"/>
<rect x="489" y="632" width="4" height="2" fill="#008000"/>
<rect x="489" y="634" width="4" height="2" fill="#ff0000"/>
<rect x="493" y="690" width="5" height="2" fill="#008000"/>
<rect x="489" y="710" width="4" height="2" fill="#008000"/>
<rect x="517" y="734" width="7" height="2" fill="#ffb6c1"/>
<rect x="650" y="593" width="11" height="2" fill="#ba55d3"/>
<rect x="661" y="625" width="12" height="2" fill="#ff0000"/>
<rect x="611" y="636" width="12" height="2" fill="#ffd700"/>
<rect x="637" y="649" width="13" height="2" fill="#3a3aff"/>
<rect x="637" y="651" width="13" height="2" fill="#ba55d3"/>
<rect x="650" y="667" width="11" height="2" fill="#ff0000"/>
<rect x="650" y="677" width="11" height="2" fill="#ff0000"/>
<rect x="650" y="699" width="11" height="2" fill="#ba55d3"/>
<rect x="705" y="675" width="12" height="2" fill="#ba55d3"/>
<rect x="705" y="513" width="12" height="2" fill="#3a3aff"/>
<rect x="705" y="515" width="12" height="2" fill="#ff0000"/>
<rect x="705" y="521" width="12" height="2" fill="#ffb6c1"/>
<rect x="705" y="523" width="12" height="1" fill="#ba55d3"/>
<rect x="705" y="528" width="12" height="2" fill="#3a3aff"/>
<rect x="705" y="534" width="12" height="3" fill="#ba55d3"/>
<rect x="705" y="541" width="12" height="2" fill="#ff0000"/>
<rect x="705" y="543" width="12" height="2" fill="#ffb6c1"/>
<rect x="705" y="569" width="12" height="2" fill="#ba55d3"/>
<rect x="705" y="573" width="12" height="2" fill="#ff0000"/>
<rect x="705" y="586" width="12" height="2" fill="#00ffff"/>
<rect x="705" y="595" width="12" height="2" fill="#ba55d3"/>
<rect x="705" y="597" width="12" height="2" fill="#ffb6c1"/>
<rect x="705" y="601" width="12" height="1" fill="#ba55d3"/>
<rect x="705" y="606" width="12" height="2" fill="#ba55d3"/>
<rect x="768" y="530" width="17" height="2" fill="#00ffff"/>
<rect x="768" y="604" width="17" height="2" fill="#00ffff"/>
<rect x="705" y="627" width="12" height="1" fill="#ba55d3"/>
<rect x="768" y="679" width="17" height="1" fill="#00ffff"/>
<rect x="768" y="712" width="17" height="2" fill="#008000"/>
<rect x="768" y="458" width="17" height="2" fill="#00ffff"/>
<rect x="287" y="318" width="4" height="2" fill="#00ffff"/>
<rect x="287" y="322" width="4" height="2" fill="#ffd700"/>
<rect x="280" y="326" width="4" height="2" fill="#ff0000"/>
<rect x="284" y="328" width="3" height="2" fill="#ffb6c1"/>
<rect x="280" y="333" width="4" height="2" fill="#00ffff"/>
<rect x="260" y="344" width="5" height="2" fill="#ff0000"/>
</g>
<g stroke="#b0b0b0" stroke-width="1.22">
<line x1="138.50" y1="100.5" x2="138.50" y2="793.5"/>
<line x1="230.50" y1="100.5" x2="230.50" y2="793.5"/>
<line x1="323.50" y1="100.5" x2="323.50" y2="793.5"/>
<line x1="415.50" y1="100.5" x2="415.50" y2="793.5"/>
<line x1="508.50" y1="100.5" x2="508.50" y2="793.5"/>
<line x1="600.50" y1="100.5" x2="600.50" y2="793.5"/>
<line x1="692.50" y1="100.5" x2="692.50" y2="793.5"/>
<line x1="92.5" y1="669.50" x2="785.5" y2="669.50"/>
<line x1="92.5" y1="545.50" x2="785.5" y2="545.50"/>
<line x1="92.5" y1="421.50" x2="785.5" y2="421.50"/>
<line x1="92.5" y1="298.50" x2="785.5" y2="298.50"/>
<line x1="92.5" y1="174.50" x2="785.5" y2="174.50"/>
</g>
<g stroke="#000" stroke-width="1.22">
<line x1="138.50" y1="793.5" x2="138.50" y2="798.85"/>
<line x1="230.50" y1="793.5" x2="230.50" y2="798.85"/>
<line x1="323.50" y1="793.5" x2="323.50" y2="798.85"/>
<line x1="415.50" y1="793.5" x2="415.50" y2="798.85"/>
<line x1="508.50" y1="793.5" x2="508.50" y2="798.85"/>
<line x1="600.50" y1="793.5" x2="600.50" y2="798.85"/>
<line x1="692.50" y1="793.5" x2="692.50" y2="798.85"/>
<line x1="785.50" y1="793.5" x2="785.50" y2="798.85"/>
<line x1="92.5" y1="793.50" x2="87.15" y2="793.50"/>
<line x1="92.5" y1="669.50" x2="87.15" y2="669.50"/>
<line x1="92.5" y1="545.50" x2="87.15" y2="545.50"/>
<line x1="92.5" y1="421.50" x2="87.15" y2="421.50"/>
<line x1="92.5" y1="298.50" x2="87.15" y2="298.50"/>
<line x1="92.5" y1="174.50" x2="87.15" y2="174.50"/>
</g>
<g stroke="#000" stroke-width="0.92">
<line x1="92.50" y1="793.5" x2="92.50" y2="796.56"/>
<line x1="115.50" y1="793.5" x2="115.50" y2="796.56"/>
<line x1="161.50" y1="793.5" x2="161.50" y2="796.56"/>
<line x1="184.50" y1="793.5" x2="184.50" y2="796.56"/>
<line x1="207.50" y1="793.5" x2="207.50" y2="796.56"/>
<line x1="253.50" y1="793.5" x2="253.50" y2="796.56"/>
<line x1="277.50" y1="793.5" x2="277.50" y2="796.56"/>
<line x1="300.50" y1="793.5" x2="300.50" y2="796.56"/>
<line x1="346.50" y1="793.5" x2="346.50" y2="796.56"/>
<line x1="369.50" y1="793.5" x2="369.50" y2="796.56"/>
<line x1="392.50" y1="793.5" x2="392.50" y2="796.56"/>
<line x1="438.50" y1="793.5" x2="438.50" y2="796.56"/>
<line x1="461.50" y1="793.5" x2="461.50" y2="796.56"/>
<line x1="484.50" y1="793.5" x2="484.50" y2="796.56"/>
<line x1="531.50" y1="793.5" x2="531.50" y2="796.56"/>
<line x1="554.50" y1="793.5" x2="554.50" y2="796.56"/>
<line x1="577.50" y1="793.5" x2="577.50" y2="796.56"/>
<line x1="623.50" y1="793.5" x2="623.50" y2="796.56"/>
<line x1="646.50" y1="793.5" x2="646.50" y2="796.56"/>
<line x1="669.50" y1="793.5" x2="669.50" y2="796.56"/>
<line x1="716.50" y1="793.5" x2="716.50" y2="796.56"/>
<line x1="739.50" y1="793.5" x2="739.50" y2="796.56"/>
<line x1="762.50" y1="793.5" x2="762.50" y2="796.56"/>
<line x1="92.5" y1="762.50" x2="89.44" y2="762.50"/>
<line x1="92.5" y1="731.50" x2="89.44" y2="731.50"/>
<line x1="92.5" y1="700.50" x2="89.44" y2="700.50"/>
<line x1="92.5" y1="638.50" x2="89.44" y2="638.50"/>
<line x1="92.5" y1="607.50" x2="89.44" y2="607.50"/>
<line x1="92.5" y1="576.50" x2="89.44" y2="576.50"/>
<line x1="92.5" y1="514.50" x2="89.44" y2="514.50"/>
<line x1="92.5" y1="483.50" x2="89.44" y2="483.50"/>
<line x1="92.5" y1="452.50" x2="89.44" y2="452.50"/>
<line x1="92.5" y1="391.50" x2="89.44" y2="391.50"/>
<line x1="92.5" y1="360.50" x2="89.44" y2="360.50"/>
<line x1="92.5" y1="329.50" x2="89.44" y2="329.50"/>
<line x1="92.5" y1="267.50" x2="89.44" y2="267.50"/>
<line x1="92.5" y1="236.50" x2="89.44" y2="236.50"/>
<line x1="92.5" y1="205.50" x2="89.44" y2="205.50"/>
<line x1="92.5" y1="143.50" x2="89.44" y2="143.50"/>
<line x1="92.5" y1="112.50" x2="89.44" y2="112.50"/>
</g>
<rect x="92.5" y="100.5" width="693.00" height="693.00" fill="none" stroke="#000" stroke-width="1.22"/>
<g font-size="15.6" letter-spacing="0.45" stroke="#000" stroke-width="0.2">
<text x="138.50" y="814.6" text-anchor="middle">2</text>
<text x="230.50" y="814.6" text-anchor="middle">4</text>
<text x="323.50" y="814.6" text-anchor="middle">6</text>
<text x="415.50" y="814.6" text-anchor="middle">8</text>
<text x="508.50" y="814.6" text-anchor="middle">10</text>
<text x="600.50" y="814.6" text-anchor="middle">12</text>
<text x="692.50" y="814.6" text-anchor="middle">14</text>
<text x="785.50" y="814.6" text-anchor="middle">16</text>
<text x="82.0" y="799.30" text-anchor="end">0</text>
<text x="82.0" y="675.30" text-anchor="end">200</text>
<text x="82.0" y="551.30" text-anchor="end">400</text>
<text x="82.0" y="427.30" text-anchor="end">600</text>
<text x="82.0" y="304.30" text-anchor="end">800</text>
<text x="82.0" y="180.30" text-anchor="end">1000</text>
</g>
<text x="437.5" y="842" font-size="24" text-anchor="middle">Frequency (MHz)</text>
<text transform="translate(28.0,447.5) rotate(-90)" font-size="24" text-anchor="middle">Virtual height (km)</text>
<text x="426.5" y="32.3" font-size="28.8" text-anchor="middle">NAL CADI - Aug 08 05:15:00 2025 UTC</text>
<g shape-rendering="crispEdges">
<rect x="816.5" y="82" width="30.00" height="90" fill="#00bfff"/>
<rect x="816.5" y="172" width="30.00" height="90" fill="#00ffff"/>
<rect x="816.5" y="262" width="30.00" height="90" fill="#ffd700"/>
<rect x="816.5" y="352" width="30.00" height="90" fill="#ffb6c1"/>
<rect x="816.5" y="442" width="30.00" height="90" fill="#ba55d3"/>
<rect x="816.5" y="532" width="30.00" height="90" fill="#3a3aff"/>
<rect x="816.5" y="622" width="30.00" height="90" fill="#ff0000"/>
<rect x="816.5" y="712" width="30.00" height="90" fill="#008000"/>
</g>
<rect x="816.5" y="82.5" width="30.00" height="720.00" fill="none" stroke="#000" stroke-width="1.22"/>
<g stroke="#000" stroke-width="1.22">
<line x1="846.5" y1="127.50" x2="851.85" y2="127.50"/>
<line x1="846.5" y1="217.50" x2="851.85" y2="217.50"/>
<line x1="846.5" y1="307.50" x2="851.85" y2="307.50"/>
<line x1="846.5" y1="397.50" x2="851.85" y2="397.50"/>
<line x1="846.5" y1="487.50" x2="851.85" y2="487.50"/>
<line x1="846.5" y1="577.50" x2="851.85" y2="577.50"/>
<line x1="846.5" y1="667.50" x2="851.85" y2="667.50"/>
<line x1="846.5" y1="757.50" x2="851.85" y2="757.50"/>
</g><g stroke="#000" stroke-width="0.92">
<line x1="846.5" y1="82.50" x2="849.56" y2="82.50"/>
<line x1="846.5" y1="172.50" x2="849.56" y2="172.50"/>
<line x1="846.5" y1="262.50" x2="849.56" y2="262.50"/>
<line x1="846.5" y1="352.50" x2="849.56" y2="352.50"/>
<line x1="846.5" y1="442.50" x2="849.56" y2="442.50"/>
<line x1="846.5" y1="532.50" x2="849.56" y2="532.50"/>
<line x1="846.5" y1="622.50" x2="849.56" y2="622.50"/>
<line x1="846.5" y1="712.50" x2="849.56" y2="712.50"/>
<line x1="846.5" y1="802.50" x2="849.56" y2="802.50"/>
</g>
<g font-size="15.6" letter-spacing="0.42" stroke="#000" stroke-width="0.2">
<text x="856.2" y="133.30">NNE</text>
<text x="856.2" y="223.30">E</text>
<text x="856.2" y="313.30">SSE</text>
<text x="856.2" y="403.30">SSW</text>
<text x="856.2" y="493.30">W</text>
<text x="856.2" y="583.30">NNW</text>
<text x="856.2" y="673.30">Vertical</text>
<text x="856.2" y="763.30">X-mode</text>
</g>
<text transform="translate(942.8,442.5) rotate(-90)" font-size="24" text-anchor="middle">Azimuth Direction</text>
</svg></body></html>
